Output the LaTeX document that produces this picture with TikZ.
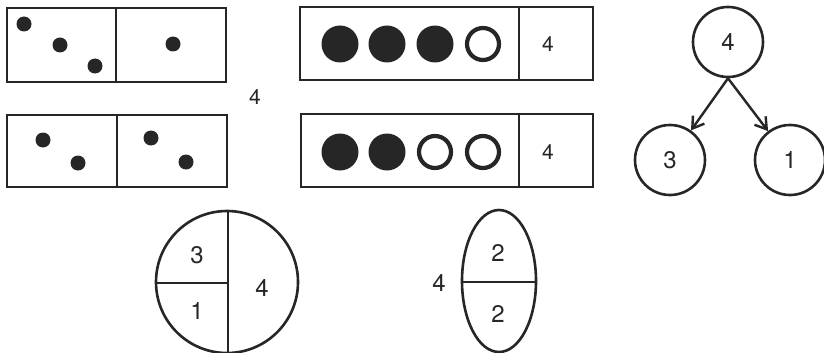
\documentclass[tikz,border=0pt]{standalone}
\usepackage{fontspec}
\setmainfont{TeX Gyre Heros}
\usetikzlibrary{arrows.meta}
\begin{document}
\begin{tikzpicture}[x=1pt,y=-1pt,
  frame/.style={draw=black!85,line width=2.3pt},
  dot/.style={circle,fill=black!85,inner sep=0pt,minimum size=15pt},
  bigdot/.style={circle,fill=black!85,inner sep=0pt,minimum size=37pt},
  ring/.style={circle,draw=black!85,line width=4.2pt,inner sep=0pt,minimum size=32pt},
  num/.style={font=\fontsize{21}{25}\selectfont,inner sep=0pt,text=black!85},
  bignum/.style={font=\fontsize{24}{28}\selectfont,inner sep=0pt,text=black!85},
  bub/.style={circle,draw=black!85,line width=2.6pt,minimum size=70pt,inner sep=0pt,font=\fontsize{24}{28}\selectfont,text=black!85},
  arr/.style={-{Straight Barb[length=11pt,width=14pt,line width=2.4pt]},line width=2.4pt,black!85},
  thick line/.style={line width=2.6pt,black!85}
]
\useasboundingbox[fill=white] (0,0) rectangle (824,353);

% --- top-left domino
\draw[frame] (7,8) rectangle (226,82);
\draw[frame] (116,8) -- (116,82);
\node[dot] (a1) at (24,24) {};
\node[dot] (a2) at (60,45) {};
\node[dot] (a3) at (95,66) {};
\node[dot] (a4) at (173,44) {};

% --- bottom-left domino
\draw[frame] (7,115) rectangle (227,187);
\draw[frame] (117,115) -- (117,187);
\node[dot] (b1) at (43,140) {};
\node[dot] (b2) at (78,163) {};
\node[dot] (b3) at (151,138) {};
\node[dot] (b4) at (186,162) {};

\node[num] (n4) at (255,97) {4};

% --- top bar
\draw[frame] (300,7) rectangle (593,80);
\draw[frame] (519,7) -- (519,80);
\node[bigdot] (c1) at (340,44) {};
\node[bigdot] (c2) at (387,44) {};
\node[bigdot] (c3) at (435,44) {};
\node[ring]   (c4) at (483,44) {};
\node[num] (c5) at (548,44) {4};

% --- bottom bar
\draw[frame] (301,114) rectangle (593,187);
\draw[frame] (519,114) -- (519,187);
\node[bigdot] (d1) at (340,152) {};
\node[bigdot] (d2) at (387,152) {};
\node[ring]   (d3) at (435,152) {};
\node[ring]   (d4) at (483,152) {};
\node[num] (d5) at (548,152) {4};

% --- tree
\node[bub] (t) at (728,42) {4};
\node[bub] (l) at (670,160) {3};
\node[bub] (r) at (790,160) {1};
\draw[arr] (t.south) -- (l);
\draw[arr] (t.south) -- (r);

% --- divided circle
\draw[thick line] (227,282) circle (71);
\draw[thick line] (228,211) -- (228,353);
\draw[thick line] (156,283) -- (228,283);
\node[bignum] (p3) at (197,255) {3};
\node[bignum] (p1) at (197,311) {1};
\node[bignum] (p4) at (262,288) {4};

% --- divided ellipse
\draw[thick line] (499,281) ellipse (37 and 71);
\draw[thick line] (462,282) -- (536,282);
\node[bignum] (e2a) at (498,253) {2};
\node[bignum] (e2b) at (498,314) {2};
\node[bignum] (e4) at (439,283) {4};
\end{tikzpicture}
\end{document}
